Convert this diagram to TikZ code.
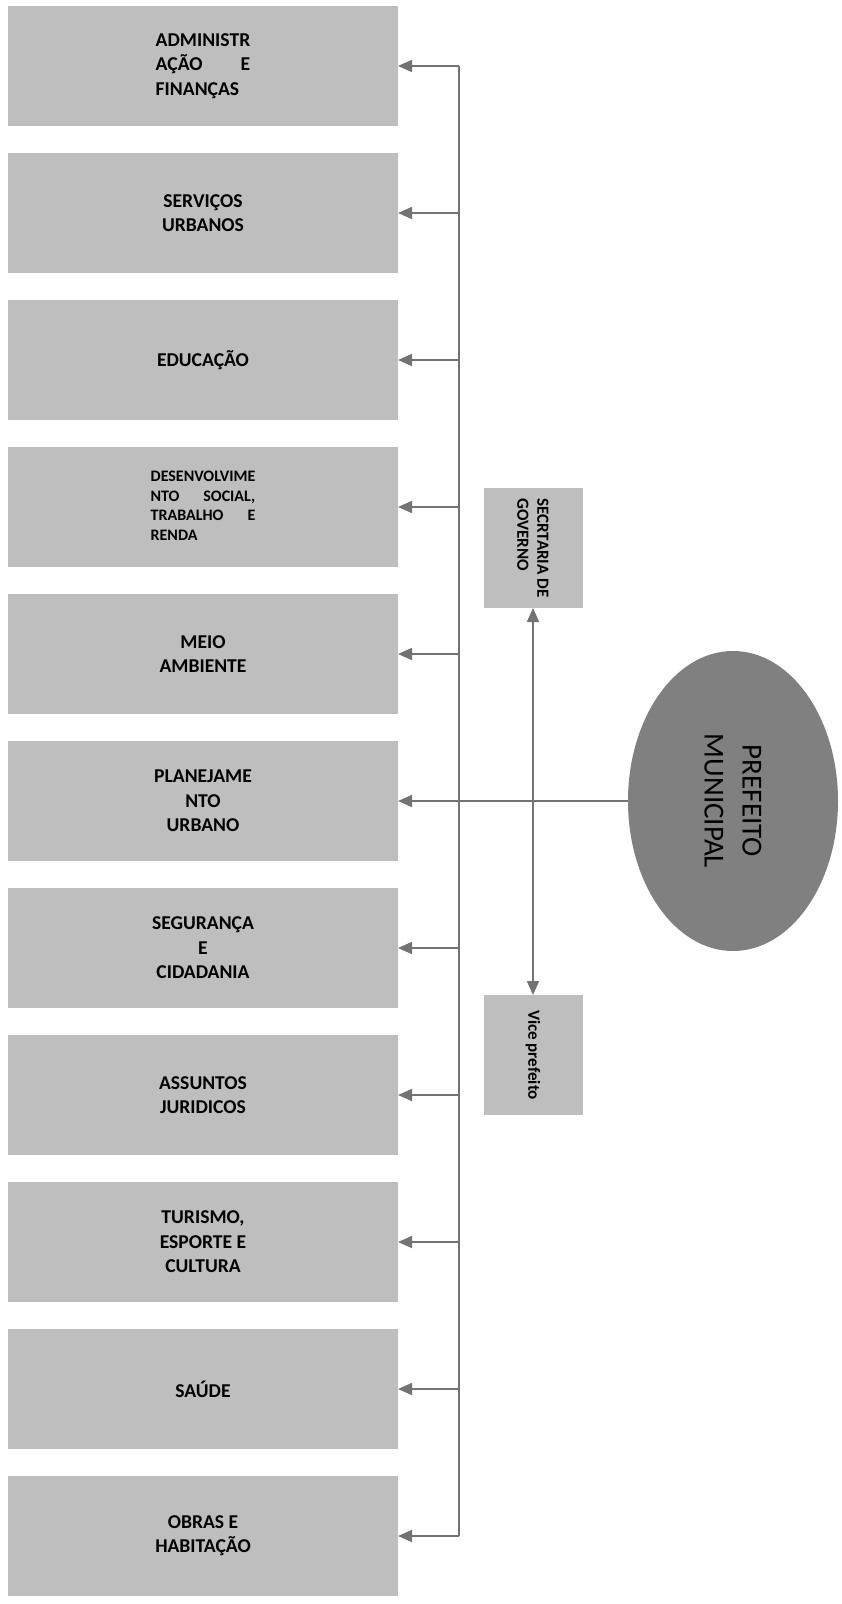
\documentclass[tikz,border=0pt]{standalone}
\usepackage{fontspec}
\setmainfont{Carlito}
\usetikzlibrary{
arrows.meta,
positioning,
shapes.geometric
}

\definecolor{boxgray}{RGB}{190,190,190}
\definecolor{ovalgray}{RGB}{128,128,128}
\definecolor{linegray}{RGB}{115,115,115}

\newcommand{\jtext}[1]{\begin{tabular}{@{}l@{}}#1\end{tabular}}

\tikzset{
  sec/.style={fill=boxgray, minimum width=195pt, minimum height=60pt, inner sep=0pt, outer sep=0pt,
    align=center, font=\bfseries\fontsize{9.8}{12.2}\selectfont},
  small/.style={font=\bfseries\fontsize{8}{9.8}\selectfont},
  side/.style={fill=boxgray, rotate=-90, minimum width=60pt, minimum height=49.5pt,
    inner sep=0pt, outer sep=0pt, align=left, font=\bfseries\fontsize{8.5}{10}\selectfont},
  link/.style={draw=linegray, line width=0.8pt},
  arr/.style={link, -{Triangle[length=7pt,width=6pt]}}
}

\begin{document}
\begin{tikzpicture}[x=0.5pt,y=0.5pt]
    \useasboundingbox (0,0) rectangle (841,-1604);

    \node[sec] (S1) at (203,-66) {\jtext{ADMINISTR\\AÇÃO\hfill E\\FINANÇAS}};
    \node[sec, below = 13.5pt of S1] (S2) {SERVIÇOS\\URBANOS};
    \node[sec, below = 13.5pt of S2] (S3) {EDUCAÇÃO};
    \node[sec, small, below = 13.5pt of S3] (S4) {\jtext{DESENVOLVIME\\NTO\hfill SOCIAL,\\TRABALHO\hfill E\\RENDA}};
    \node[sec, below = 13.5pt of S4] (S5) {MEIO\\AMBIENTE};
    \node[sec, below = 13.5pt of S5] (S6) {PLANEJAME\\NTO\\URBANO};
    \node[sec, below = 13.5pt of S6] (S7) {SEGURANÇA\\E\\CIDADANIA};
    \node[sec, below = 13.5pt of S7] (S8) {ASSUNTOS\\JURIDICOS};
    \node[sec, below = 13.5pt of S8] (S9) {TURISMO,\\ESPORTE E\\CULTURA};
    \node[sec, below = 13.5pt of S9] (S10) {SAÚDE};
    \node[sec, below = 13.5pt of S10] (S11) {OBRAS E\\HABITAÇÃO};

    \node[ellipse, fill=ovalgray, rotate=-90, minimum width=150pt, minimum height=105pt,
      inner sep=0pt, align=center, font=\fontsize{14.5}{19}\selectfont] (P) at (733,-801) {PREFEITO\\MUNICIPAL};
    \node[side] (G) at (533,-548) {SECRTARIA DE\\GOVERNO};
    \node[side] (V) at (533,-1055) {Vice prefeito};

    \coordinate (bus) at (459,0);
    \draw[link] (bus |- S1) -- (bus |- S11);
    \draw[arr] (bus |- S1) -- (S1);
    \draw[arr] (bus |- S2) -- (S2);
    \draw[arr] (bus |- S3) -- (S3);
    \draw[arr] (bus |- S4) -- (S4);
    \draw[arr] (bus |- S5) -- (S5);
    \draw[arr] (P) -- (S6);
    \draw[arr] (bus |- S7) -- (S7);
    \draw[arr] (bus |- S8) -- (S8);
    \draw[arr] (bus |- S9) -- (S9);
    \draw[arr] (bus |- S10) -- (S10);
    \draw[arr] (bus |- S11) -- (S11);
    \draw[link, {Triangle[length=7pt,width=6pt]}-{Triangle[length=7pt,width=6pt]}] (G) -- (V);
\end{tikzpicture}
\end{document}
